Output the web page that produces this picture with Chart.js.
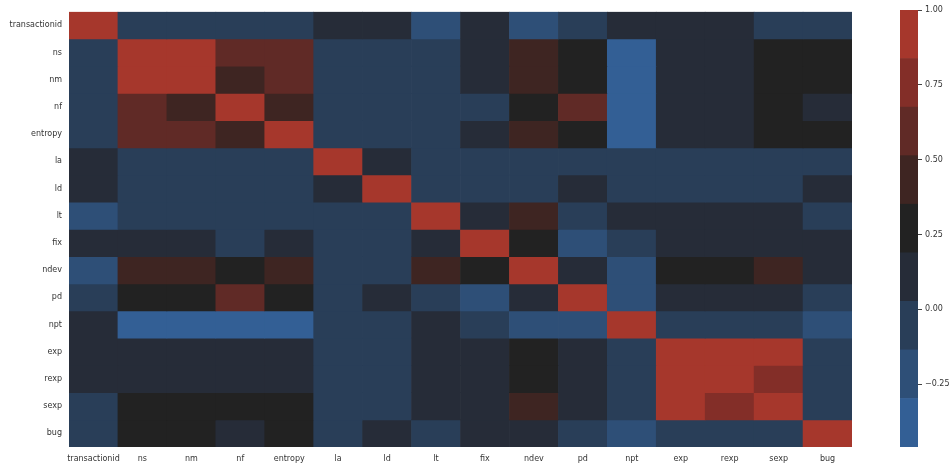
<!DOCTYPE html>
<html>
<head>
<meta charset="utf-8">
<script src="https://cdn.jsdelivr.net/npm/chart.js@4.4.1/dist/chart.umd.min.js"></script>
<style>
  html, body { margin: 0; padding: 0; background: #ffffff; }
  #wrap { position: relative; width: 952px; height: 468px; }
  #heat { position: absolute; left: 0; top: 0; }
  #cbar { position: absolute; left: 880px; top: 0; }
</style>
</head>
<body>
<div id="wrap">
  <canvas id="heat" width="870" height="468"></canvas>
  <canvas id="cbar" width="72" height="468"></canvas>
</div>
<script>
// Variables of the correlation matrix (row and column order)
const variables = ['transactionid', 'ns', 'nm', 'nf', 'entropy', 'la', 'ld', 'lt',
                   'fix', 'ndev', 'pd', 'npt', 'exp', 'rexp', 'sexp', 'bug'];

// Pairwise correlation, one row per variable
const transactionidRow = [1.00, -0.03, -0.03, -0.02, -0.04, 0.05, 0.06, -0.21, 0.12, -0.19, -0.08, 0.09, 0.14, 0.13, -0.05, -0.06];
const nsRow            = [-0.03, 1.00, 0.97, 0.61, 0.63, -0.02, -0.01, -0.04, 0.11, 0.44, 0.27, -0.40, 0.08, 0.07, 0.24, 0.26];
const nmRow            = [-0.03, 0.97, 1.00, 0.48, 0.60, -0.02, -0.01, -0.05, 0.10, 0.43, 0.28, -0.41, 0.08, 0.07, 0.25, 0.27];
const nfRow            = [-0.02, 0.61, 0.48, 1.00, 0.45, -0.01, 0.00, -0.03, -0.02, 0.31, 0.59, -0.38, 0.06, 0.06, 0.22, 0.15];
const entropyRow       = [-0.04, 0.63, 0.60, 0.45, 1.00, -0.02, -0.01, -0.06, 0.09, 0.42, 0.26, -0.39, 0.07, 0.06, 0.23, 0.25];
const laRow            = [0.05, -0.02, -0.02, -0.01, -0.02, 1.00, 0.15, -0.03, -0.04, -0.02, -0.05, -0.06, -0.03, -0.03, -0.04, -0.01];
const ldRow            = [0.06, -0.01, -0.01, 0.00, -0.01, 0.15, 1.00, -0.02, -0.03, -0.01, 0.07, -0.05, -0.02, -0.02, -0.03, 0.08];
const ltRow            = [-0.21, -0.04, -0.05, -0.03, -0.06, -0.03, -0.02, 1.00, 0.10, 0.40, -0.02, 0.12, 0.11, 0.10, 0.09, -0.07];
const fixRow           = [0.12, 0.11, 0.10, -0.02, 0.09, -0.04, -0.03, 0.10, 1.00, 0.29, -0.22, -0.09, 0.13, 0.12, 0.11, 0.14];
const ndevRow          = [-0.19, 0.44, 0.43, 0.31, 0.42, -0.02, -0.01, 0.40, 0.29, 1.00, 0.13, -0.24, 0.30, 0.28, 0.41, 0.10];
const pdRow            = [-0.08, 0.27, 0.28, 0.59, 0.26, -0.05, 0.07, -0.02, -0.22, 0.13, 1.00, -0.23, 0.09, 0.09, 0.10, -0.04];
const nptRow           = [0.09, -0.40, -0.41, -0.38, -0.39, -0.06, -0.05, 0.12, -0.09, -0.24, -0.23, 1.00, -0.07, -0.07, -0.08, -0.25];
const expRow           = [0.14, 0.08, 0.08, 0.06, 0.07, -0.03, -0.02, 0.11, 0.13, 0.30, 0.09, -0.07, 1.00, 0.96, 0.88, -0.09];
const rexpRow          = [0.13, 0.07, 0.07, 0.06, 0.06, -0.03, -0.02, 0.10, 0.12, 0.28, 0.09, -0.07, 0.96, 1.00, 0.77, -0.08];
const sexpRow          = [-0.05, 0.24, 0.25, 0.22, 0.23, -0.04, -0.03, 0.09, 0.11, 0.41, 0.10, -0.08, 0.88, 0.77, 1.00, -0.06];
const bugRow           = [-0.06, 0.26, 0.27, 0.15, 0.25, -0.01, 0.08, -0.07, 0.14, 0.10, -0.04, -0.25, -0.09, -0.08, -0.06, 1.00];

// Colour bar tick values
const colorbarTicks = [-0.25, 0.00, 0.25, 0.50, 0.75, 1.00];

// Discrete diverging palette (blue -> dark -> red) and its value range
const palette = ['#335F95', '#2E4F77', '#293E58', '#262C38', '#222222',
                 '#3E2522', '#602A26', '#832E28', '#A6372C'];
const vmin = -0.46;
const vmax = 1.00;

const rows = [transactionidRow, nsRow, nmRow, nfRow, entropyRow, laRow, ldRow, ltRow,
              fixRow, ndevRow, pdRow, nptRow, expRow, rexpRow, sexpRow, bugRow];

const binWidth = (vmax - vmin) / palette.length;
function colorFor(v) {
  let k = Math.floor((v - vmin) / binWidth);
  k = Math.max(0, Math.min(palette.length - 1, k));
  return palette[k];
}

const FONT = { family: 'DejaVu Sans', size: 8 };
const TEXT = '#333333';

// Heatmap: one floating-bar dataset per row, cells spanning [i, i+1] on a reversed y scale
new Chart(document.getElementById('heat'), {
  type: 'bar',
  data: {
    labels: variables,
    datasets: rows.map((row, i) => ({
      label: variables[i],
      data: row.map(() => [i, i + 1]),
      backgroundColor: row.map(colorFor),
      borderWidth: 0,
      grouped: false,
      barPercentage: 1,
      categoryPercentage: 1
    }))
  },
  options: {
    responsive: false,
    animation: false,
    events: [],
    layout: { padding: { top: 10, right: 18, bottom: 0, left: 0 } },
    plugins: { legend: { display: false }, tooltip: { enabled: false } },
    scales: {
      x: {
        type: 'category',
        grid: { display: false, drawTicks: false },
        border: { display: false },
        ticks: { font: FONT, color: TEXT, maxRotation: 0, autoSkip: false, padding: 7 },
        afterFit: s => { s.height = 21; }
      },
      y: {
        type: 'linear',
        min: 0,
        max: variables.length,
        reverse: true,
        grid: { display: false, drawTicks: false },
        border: { display: false },
        afterBuildTicks: s => { s.ticks = variables.map((_, i) => ({ value: i + 0.5 })); },
        ticks: {
          font: FONT, color: TEXT, autoSkip: false, padding: 7,
          callback: (v, idx) => variables[idx]
        },
        afterFit: s => { s.width = 69; }
      }
    }
  }
});

// Colour bar: stacked bins of the palette on a value scale
const edges = palette.map((_, k) => vmin + k * binWidth).concat([vmax]);
new Chart(document.getElementById('cbar'), {
  type: 'bar',
  data: {
    labels: [''],
    datasets: palette.map((c, k) => ({
      data: [[edges[k], edges[k + 1]]],
      backgroundColor: c,
      borderWidth: 0,
      grouped: false,
      barPercentage: 1,
      categoryPercentage: 1
    }))
  },
  options: {
    responsive: false,
    animation: false,
    events: [],
    layout: { padding: { top: 10, right: 0, bottom: 21, left: 20 } },
    plugins: { legend: { display: false }, tooltip: { enabled: false } },
    scales: {
      x: { display: false },
      y: {
        type: 'linear',
        position: 'right',
        min: vmin,
        max: vmax,
        grid: { display: true, drawOnChartArea: false, drawTicks: true, tickLength: 4, tickColor: '#444444' },
        border: { display: false },
        afterBuildTicks: s => { s.ticks = colorbarTicks.map(v => ({ value: v })); },
        ticks: {
          font: FONT, color: TEXT, padding: 3,
          callback: v => v.toFixed(2).replace('-', '\u2212')
        },
        afterFit: s => { s.width = 34; }
      }
    }
  }
});
</script>
</body>
</html>
